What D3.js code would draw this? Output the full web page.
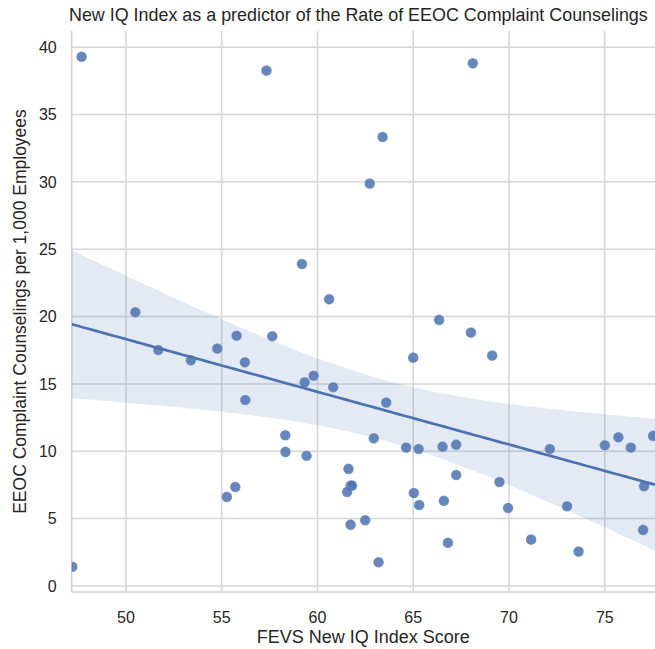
<!DOCTYPE html>
<html>
<head>
<meta charset="utf-8">
<script src="https://cdn.jsdelivr.net/npm/d3@7"></script>
<style>
  body { margin: 0; background: #fff; }
  svg text { font-family: "Liberation Sans", Arial, sans-serif; fill: #262626; }
</style>
</head>
<body>
<div id="chart"></div>
<script>
// FEVS New IQ Index score vs. EEOC complaint counselings per 1,000 employees
var iqScore = [
  47.69, 57.34, 59.19, 60.61, 68.11, 63.40, 62.73,
  50.49, 51.69, 53.39, 54.77, 55.78, 56.21, 56.23, 57.64, 58.32, 58.33,
  59.43, 59.33, 59.80, 60.82, 55.27, 55.71, 47.20,
  66.35, 68.01, 69.12, 65.00, 63.59, 62.94, 64.63, 65.28, 66.53, 67.24,
  72.13, 75.00, 75.71, 76.36, 77.52, 61.62, 61.73, 61.80, 61.55, 61.73,
  62.49, 63.19, 65.03, 65.31, 66.60, 67.24, 66.81, 69.50, 69.95, 71.15,
  73.03, 73.63, 77.05, 77.00
];
var counselings = [
  39.29, 38.26, 23.90, 21.28, 38.80, 33.33, 29.87,
  20.32, 17.52, 16.75, 17.62, 18.58, 16.60, 13.81, 18.54, 11.19, 9.95,
  9.67, 15.12, 15.61, 14.75, 6.61, 7.35, 1.43,
  19.75, 18.81, 17.10, 16.95, 13.61, 10.96, 10.27, 10.17, 10.34, 10.49,
  10.17, 10.44, 11.04, 10.27, 11.14, 8.69, 7.45, 7.45, 6.98, 4.55,
  4.88, 1.76, 6.90, 6.01, 6.33, 8.24, 3.21, 7.72, 5.79, 3.44,
  5.92, 2.55, 7.40, 4.16
];
var xTicks = [50, 55, 60, 65, 70, 75];
var yTicks = [0, 5, 10, 15, 20, 25, 30, 35, 40];
var xLimits = [47.17, 77.62];
var yLimits = [-0.45, 41.2];

var titleText = "New IQ Index as a predictor of the Rate of EEOC Complaint Counselings";
var xLabel = "FEVS New IQ Index Score";
var yLabel = "EEOC Complaint Counselings per 1,000 Employees";

var W = 655, H = 649;
var margin = {left: 71.7, top: 31, right: 0, bottom: 57};
var width = W - margin.left - margin.right;
var height = H - margin.top - margin.bottom;

var color = "#4c72b0";

var svg = d3.select("#chart").append("svg")
  .attr("width", W)
  .attr("height", H);

var x = d3.scaleLinear().domain(xLimits).range([0, width]);
var y = d3.scaleLinear().domain(yLimits).range([height, 0]);

var g = svg.append("g")
  .attr("transform", `translate(${margin.left},${margin.top})`);

g.append("clipPath").attr("id", "plot-clip")
  .append("rect")
  .attr("width", width)
  .attr("height", height);

// grid
g.append("g").attr("class", "grid")
  .selectAll("line.xg").data(xTicks).enter().append("line")
  .attr("x1", d => x(d)).attr("x2", d => x(d))
  .attr("y1", 0).attr("y2", height)
  .attr("stroke", "#d6d6d6").attr("stroke-width", 1.5);
g.append("g").attr("class", "grid")
  .selectAll("line.yg").data(yTicks).enter().append("line")
  .attr("x1", 0).attr("x2", width)
  .attr("y1", d => y(d)).attr("y2", d => y(d))
  .attr("stroke", "#d6d6d6").attr("stroke-width", 1.5);

// spines (despined: left + bottom only)
g.append("line").attr("x1", 0).attr("x2", 0).attr("y1", 0).attr("y2", height)
  .attr("stroke", "#cfcfcf").attr("stroke-width", 1.5);
g.append("line").attr("x1", 0).attr("x2", width).attr("y1", height).attr("y2", height)
  .attr("stroke", "#cfcfcf").attr("stroke-width", 1.5);

// linear fit + 95% confidence band
var n = iqScore.length;
var xbar = d3.mean(iqScore), ybar = d3.mean(counselings);
var sxx = d3.sum(iqScore, d => (d - xbar) * (d - xbar));
var sxy = d3.sum(iqScore, (d, i) => (d - xbar) * (counselings[i] - ybar));
var slope = sxy / sxx, intercept = ybar - slope * xbar;
var sse = d3.sum(iqScore, (d, i) => Math.pow(counselings[i] - (intercept + slope * d), 2));
var s = Math.sqrt(sse / (n - 2));
var tcrit = 2.003;
var grid = d3.range(0, 101).map(i => xLimits[0] + (xLimits[1] - xLimits[0]) * i / 100);
var fit = grid.map(function(xv) {
  var yhat = intercept + slope * xv;
  var se = s * Math.sqrt(1 / n + (xv - xbar) * (xv - xbar) / sxx);
  return {x: xv, y: yhat, lo: yhat - tcrit * se, hi: yhat + tcrit * se};
});

var plot = g.append("g").attr("clip-path", "url(#plot-clip)");

plot.append("path").datum(fit)
  .attr("d", d3.area().x(d => x(d.x)).y0(d => y(d.lo)).y1(d => y(d.hi)))
  .attr("fill", color).attr("fill-opacity", 0.15);

plot.selectAll("circle").data(iqScore).enter().append("circle")
  .attr("cx", d => x(d))
  .attr("cy", (d, i) => y(counselings[i]))
  .attr("r", 5.3)
  .attr("fill", color).attr("fill-opacity", 0.85)
  .attr("stroke", "#fff").attr("stroke-opacity", 0.4).attr("stroke-width", 0.6);

plot.append("path").datum(fit)
  .attr("d", d3.line().x(d => x(d.x)).y(d => y(d.y)))
  .attr("fill", "none").attr("stroke", color).attr("stroke-width", 2.7);

// tick labels
g.selectAll("text.xt").data(xTicks).enter().append("text")
  .attr("x", d => x(d)).attr("y", height + 31)
  .attr("text-anchor", "middle").style("font-size", "16px")
  .text(d => d);
g.selectAll("text.yt").data(yTicks).enter().append("text")
  .attr("x", -15).attr("y", d => y(d) + 5.8)
  .attr("text-anchor", "end").style("font-size", "16px")
  .text(d => d);

// labels
svg.append("text")
  .attr("x", margin.left + width / 2).attr("y", H - 6)
  .attr("text-anchor", "middle").style("font-size", "18px")
  .text(xLabel);
svg.append("text")
  .attr("transform", `translate(26,${margin.top + height / 2}) rotate(-90)`)
  .attr("text-anchor", "middle").style("font-size", "17.5px")
  .text(yLabel);
svg.append("text")
  .attr("x", 69).attr("y", 21)
  .attr("text-anchor", "start").style("font-size", "17.9px")
  .text(titleText);
</script>
</body>
</html>
